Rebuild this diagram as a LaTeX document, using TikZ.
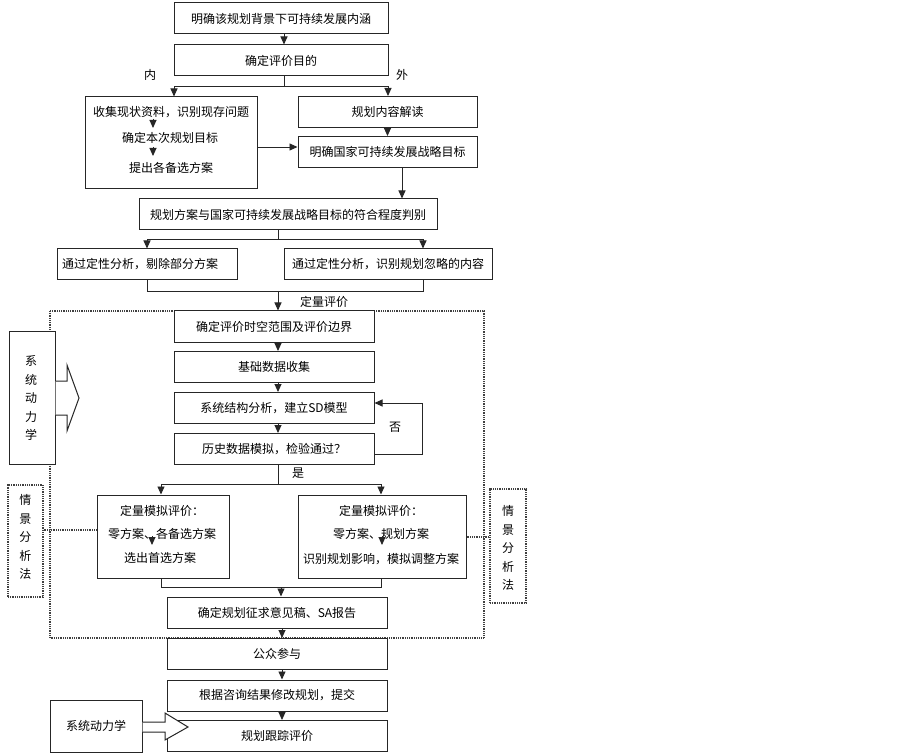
\documentclass[tikz,border=0pt]{standalone}
\usepackage{fontspec}
\setmainfont{Noto Sans CJK SC}
\usetikzlibrary{arrows.meta,calc}
\begin{document}
\begin{tikzpicture}[x=1pt,y=-1pt,
  box/.style={draw=black!85, line width=1pt, fill=white, minimum height=31pt, inner sep=0pt, font=\fontsize{12}{14}\selectfont},
  conn/.style={line width=0.9pt, draw=black!85},
  arr/.style={conn, -{Triangle[length=8pt,width=7pt]}},
  dotbox/.style={draw=black!75, line width=1.2pt, dash pattern=on 1pt off 0.8pt},
  lbl/.style={font=\fontsize{12}{14}\selectfont, inner sep=0pt},
  vtext/.style={align=center, font=\fontsize{12}{18.5}\selectfont, inner sep=0pt},
  blockarr/.style={draw=black!85, line width=1pt, fill=white, line join=miter},
]
\useasboundingbox (0,0) rectangle (903,754);

% top part
\node[box, minimum width=214pt] (n1) at (281,18.5) {明确该规划背景下可持续发展内涵};
\node[box, minimum width=214pt] (n2) at (281,60.5) {确定评价目的};
\draw[arr] (n1.south -| 284,0) -- (n2.north -| 284,0);
\node[lbl] (lin) at (150,75) {内};
\node[lbl] (lout) at (402,75) {外};

\node[box, minimum width=172pt, minimum height=92pt] (nL) at (171,143) {};
\node[lbl] (t1) at (171,112) {收集现状资料，识别现存问题};
\node[lbl] (t2) at (170,138) {确定本次规划目标};
\node[lbl] (t3) at (171,168) {提出各备选方案};
\draw[arr] (153,119) -- (153,128);
\draw[arr] (153,147) -- (153,156);

\node[box, minimum width=179pt] (nR1) at (387.5,112) {规划内容解读};
\node[box, minimum width=179pt] (nR2) at (387.5,152) {明确国家可持续发展战略目标};
\draw[arr] (nR1) -- (nR2);
\draw[arr] (nL.east |- 0,147) -- (nR2.west |- 0,147);

\coordinate (j1) at (284,86);
\draw[conn] (n2.south -| j1) -- (j1);
\draw[arr] (j1) -| (nL.north -| 174,0);
\draw[arr] (j1) -| (nR1.north -| 388,0);

\node[box, minimum width=298pt] (n3) at (288,214.5) {规划方案与国家可持续发展战略目标的符合程度判别};
\draw[arr] (nR2.south -| 402,0) -- (n3.north -| 402,0);

\node[box, minimum width=180pt] (n4L) at (147,264.5) {\hspace*{-14pt}通过定性分析，剔除部分方案};
\node[box, minimum width=208pt] (n4R) at (388,264.5) {通过定性分析，识别规划忽略的内容};
\coordinate (j2) at (278,239);
\draw[conn] (n3.south -| j2) -- (j2);
\draw[arr] (j2) -| (n4L.north);
\draw[arr] (j2) -| (n4R.north -| 423,0);

% frame
\draw[dotbox] (50,311) rectangle (484,638);

\coordinate (j3) at (278,291);
\draw[conn] (n4L.south) |- (j3);
\draw[conn] (n4R.south -| 423,0) |- (j3);
\node[lbl] (lq) at (324,302) {定量评价};

\node[box, minimum width=200pt] (n5) at (274,326.5) {确定评价时空范围及评价边界};
\node[box, minimum width=200pt] (n6) at (274,367) {基础数据收集};
\node[box, minimum width=200pt] (n7) at (274,408) {系统结构分析，建立SD模型};
\node[box, minimum width=200pt] (n8) at (274,449) {历史数据模拟，检验通过？};
\draw[arr] (j3) -- (n5.north -| j3);
\draw[arr] (n5.south -| j3) -- (n6.north -| j3);
\draw[arr] (n6.south -| j3) -- (n7.north -| j3);
\draw[arr] (n7.south -| j3) -- (n8.north -| j3);
\draw[arr] (n8.east |- 0,454) -- (422,454) -- (422,403) -- (n7.east |- 0,403);
\node[lbl] (lno) at (395,427) {否};

\coordinate (j4) at (278,484);
\draw[conn] (n8.south -| j4) -- (j4);
\node[lbl] (lyes) at (298,473) {是};

\node[box, minimum width=132pt, minimum height=83pt] (n9L) at (163,536.5) {};
\node[box, minimum width=168pt, minimum height=83pt] (n9R) at (382,536.5) {};
\draw[arr] (j4) -| (n9L.north -| 161,0);
\draw[arr] (j4) -| (n9R.north -| 381,0);
\node[lbl] (a1) at (162,511) {定量模拟评价：};
\node[lbl] (a2) at (162,534) {零方案、各备选方案};
\node[lbl] (a3) at (160,558) {选出首选方案};
\draw[arr] (152,536) -- (152,545);
\node[lbl] (b1) at (381,511) {定量模拟评价：};
\node[lbl] (b2) at (381,534) {零方案、规划方案};
\node[lbl] (b3) at (381,559) {识别规划影响，模拟调整方案};
\draw[arr] (382,536) -- (382,545);

\node[box, minimum width=220pt] (n10) at (277,612.5) {确定规划征求意见稿、SA报告};
\coordinate (j5) at (281,587);
\draw[conn] (n9L.south -| 161,0) |- (j5);
\draw[conn] (n9R.south -| 381,0) |- (j5);
\draw[arr] (j5) -- (n10.north -| j5);

\node[box, minimum width=220pt] (n11) at (277,654) {公众参与};
\node[box, minimum width=220pt] (n12) at (277,695.5) {根据咨询结果修改规划，提交};
\node[box, minimum width=220pt] (n13) at (277,736) {规划跟踪评价};
\draw[arr] (n10.south -| 282,0) -- (n11.north -| 282,0);
\draw[arr] (n11.south -| 282,0) -- (n12.north -| 282,0);
\draw[arr] (n12.south -| 282,0) -- (n13.north -| 282,0);

% system dynamics (top left)
\node[box, minimum width=46pt, minimum height=132pt] (sd1) at (32,398) {};
\node[vtext] (sd1t) at (31,398) {系\\统\\动\\力\\学};
\draw[blockarr] (sd1.east |- 0,381) -- (67,381) -- (67,365) -- (79,398) -- (67,431) -- (67,415) -- (sd1.east |- 0,415);

% scenario analysis boxes
\node[dotbox, minimum width=35pt, minimum height=112pt, inner sep=0pt] (sa1) at (25.5,541) {};
\node[vtext] (sa1t) at (25.5,537) {情\\景\\分\\析\\法};
\draw[dotbox] (sa1.east |- 0,530) -- (n9L.west |- 0,530);
\node[dotbox, minimum width=36pt, minimum height=114pt, inner sep=0pt] (sa2) at (508,546) {};
\node[vtext] (sa2t) at (508,548) {情\\景\\分\\析\\法};
\draw[dotbox] (n9R.east |- 0,537) -- (sa2.west |- 0,537);

% system dynamics (bottom)
\node[box, minimum width=92pt, minimum height=52pt] (sd2) at (96,726) {系统动力学};
\draw[blockarr] (sd2.east |- 0,722) -- (165,722) -- (165,713) -- (188,727) -- (165,740) -- (165,732) -- (sd2.east |- 0,732);
\end{tikzpicture}
\end{document}
